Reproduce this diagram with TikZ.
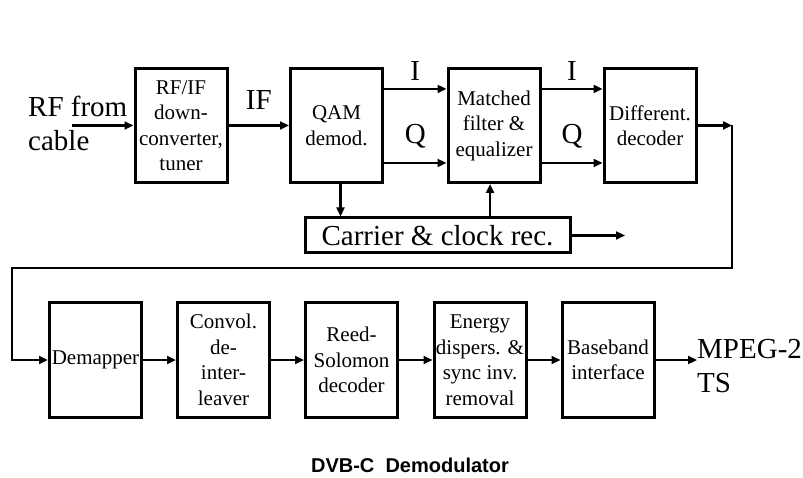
\documentclass[tikz,border=0pt]{standalone}
\usepackage{fontspec}
\setmainfont{Liberation Serif}
\setsansfont{Liberation Sans}
\usetikzlibrary{arrows.meta,positioning,calc}

\begin{document}
\begin{tikzpicture}[
  x=1pt, y=-1pt,
  font=\fontsize{21}{25.5}\selectfont,
  block/.style={draw, line width=3pt, minimum width=92pt, minimum height=114pt,
                align=center, inner sep=1pt},
  wide/.style={draw, line width=3pt, minimum width=265pt, minimum height=35pt,
               inner sep=1pt, font=\fontsize{29}{31}\selectfont},
  big/.style={font=\fontsize{29}{34}\selectfont, inner sep=0pt},
  flow/.style={-{Triangle[length=9pt, width=8pt]}, line width=2.4pt},
  caption/.style={font=\fontsize{20}{22}\selectfont\sffamily\bfseries},
]
\useasboundingbox (0,0) rectangle (803,478);

% --- Top row: front end ---
\node[big, anchor=west, align=left] (rfsrc) at (28,123) {RF from\\cable};
\coordinate (rfin) at (72,125.5);
\node[block] (rfif) at (181,125.5) {RF/IF\\down-\\converter,\\tuner};
\node[block] (qam) at (336.5,125.5) {QAM\\demod.};
\node[block] (mf) at (494,125.5) {Matched\\filter \&\\equalizer};
\node[block] (diff) at (650,125.5) {Different.\\decoder};

\draw[flow] (rfin) -- (rfif);
\draw[flow] (rfif) -- node[big, above=15pt] {IF} (qam);

% I and Q branches
\draw[flow] ([yshift=-22pt]qam.north east) -- node[big, above=7pt] {I} ([yshift=-22pt]mf.north west);
\draw[flow] ([yshift=21pt]qam.south east) -- node[big, above=14pt] {Q} ([yshift=21pt]mf.south west);
\draw[flow] ([yshift=-22pt]mf.north east) -- node[big, above=7pt] {I} ([yshift=-22pt]diff.north west);
\draw[flow] ([yshift=21pt]mf.south east) -- node[big, above=14pt] {Q} ([yshift=21pt]diff.south west);

% --- Carrier and clock recovery ---
\node[wide] (clk) at (437.5,235.5) {Carrier \& clock rec.};
\coordinate (clkout) at (625,235.5);
\draw[flow] ([xshift=4pt]qam.south) -- ([xshift=4pt]qam.south |- clk.north);
\draw[flow] ([xshift=-4pt]clk.north -| mf.south) -- ([xshift=-4pt]mf.south);
\draw[flow] (clk) -- (clkout);

% --- Wrap to second row ---
\coordinate (turn) at (732,125.5);
\coordinate (downR) at (732,268);
\coordinate (downL) at (12,268);
\draw[flow] (diff) -- (turn);

% --- Bottom row: back end ---
\node[block] (demap) at (95.5,360) {Demapper};
\node[block] (conv) at (223.5,360) {Convol.\\de-\\inter-\\leaver};
\node[block] (rs) at (351.5,360) {Reed-\\Solomon\\decoder};
\node[block] (energy) at (480,360) {Energy\\dispers. \&\\sync inv.\\removal};
\node[block] (bb) at (608,360) {Baseband\\interface};
\node[big, anchor=west, align=left] (mpeg) at (697,366) {MPEG-2\\TS};

\draw[flow] (turn) -- (downR) -- (downL) |- (demap);
\foreach \a/\b in {demap/conv, conv/rs, rs/energy, energy/bb} {
  \draw[flow] (\a) -- (\b);
}
\draw[flow] (bb) -- (bb -| mpeg.west);

% Caption
\node[caption] (title) at (410,465) {DVB-C~~Demodulator};

\end{tikzpicture}
\end{document}
